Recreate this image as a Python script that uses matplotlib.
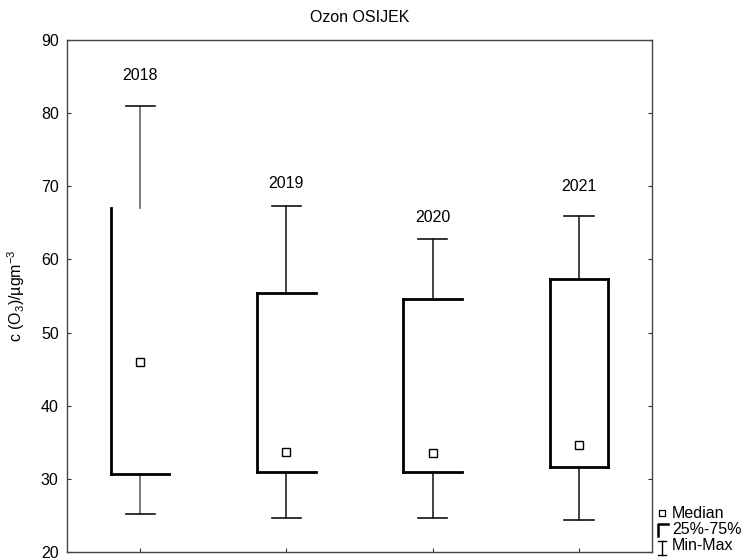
import matplotlib
matplotlib.use("Agg")
import matplotlib.pyplot as plt
from matplotlib.lines import Line2D

plt.rcParams['font.family'] = ['Liberation Sans', 'DejaVu Sans']
plt.rcParams['mathtext.fontset'] = 'custom'
plt.rcParams['mathtext.rm'] = 'Liberation Sans'
plt.rcParams['mathtext.it'] = 'Liberation Sans'

years = ["2018", "2019", "2020", "2021"]
minimum = [25.2, 24.7, 24.6, 24.4]
q25 = [30.7, 31.0, 31.0, 31.6]
median = [46.0, 33.7, 33.6, 34.6]
q75 = [67.0, 55.4, 54.6, 57.3]
maximum = [81.0, 67.3, 62.8, 65.9]
# visible box sides as drawn in the original
box_sides = [("left", "bottom"), ("left", "top", "bottom"),
             ("left", "top", "bottom"), ("left", "top", "bottom", "right")]
label_offsets = [30, 23, 21, 30]
yticks = [20, 30, 40, 50, 60, 70, 80, 90]

W, H = 748, 560
fig = plt.figure(figsize=(W / 100, H / 100), dpi=100)
ax = fig.add_axes([67 / W, 1 - 552 / H, (652 - 67) / W, (552 - 40) / H])

pos = list(range(1, len(years) + 1))
hw = 0.2
cw = 0.1
FS = 11.5
for i, x in enumerate(pos):
    whisker_col = "#666666" if i == 0 else "#222222"
    ax.plot([x, x], [q75[i], maximum[i]], color=whisker_col, lw=1.2, zorder=2)
    ax.plot([x, x], [minimum[i], q25[i]], color=whisker_col, lw=1.2, zorder=2)
    ax.plot([x - cw, x + cw], [maximum[i], maximum[i]], color="#111111", lw=1.2, zorder=2)
    ax.plot([x - cw, x + cw], [minimum[i], minimum[i]], color="#111111", lw=1.2, zorder=2)
    sides = box_sides[i]
    lw = 2.0
    if "left" in sides:
        ax.plot([x - hw, x - hw], [q25[i], q75[i]], color="black", lw=lw, zorder=3, solid_capstyle="projecting")
    if "right" in sides:
        ax.plot([x + hw, x + hw], [q25[i], q75[i]], color="black", lw=lw, zorder=3, solid_capstyle="projecting")
    if "top" in sides:
        ax.plot([x - hw, x + hw], [q75[i], q75[i]], color="black", lw=lw, zorder=3, solid_capstyle="projecting")
    if "bottom" in sides:
        ax.plot([x - hw, x + hw], [q25[i], q25[i]], color="black", lw=lw, zorder=3, solid_capstyle="projecting")
    ax.plot([x], [median[i]], marker="s", ms=6, mfc="white", mec="black", mew=1.0, zorder=4)
    ax.annotate(years[i], (x, maximum[i]), xytext=(0, label_offsets[i]), textcoords="offset pixels",
                ha="center", va="center", fontsize=FS)

ax.set_xlim(0.5, len(years) + 0.5)
ax.set_ylim(20, 90)
ax.set_yticks(yticks)
ax.set_xticks(pos)
ax.set_xticklabels([])
ax.tick_params(axis="y", direction="in", length=3, left=True, right=True, labelsize=FS, pad=6, color="#333333")
ax.tick_params(axis="x", direction="in", length=3, bottom=True, top=False, color="#333333")
for s in ["left", "bottom", "top", "right"]:
    ax.spines[s].set_color("#444444")
    ax.spines[s].set_linewidth(1.0)
ax.set_ylabel("c (O$_3$)/µgm$^{-3}$", fontsize=FS, labelpad=10)
fig.text(359.5 / W, 1 - 18 / H, "Ozon OSIJEK", ha="center", va="center", fontsize=FS)

# legend (outside, bottom right)
def fx(px):
    return px / W
def fy(py):
    return 1 - py / H

tf = fig.transFigure
fig.add_artist(Line2D([fx(662)], [fy(513)], marker="s", ms=5, mfc="white", mec="black", mew=0.9, transform=tf))
fig.add_artist(Line2D([fx(668), fx(658), fx(658)], [fy(524), fy(524), fy(536)], color="black", lw=1.8, transform=tf))
fig.add_artist(Line2D([fx(658), fx(666)], [fy(541), fy(541)], color="black", lw=1.0, transform=tf))
fig.add_artist(Line2D([fx(658), fx(666)], [fy(555), fy(555)], color="black", lw=1.0, transform=tf))
fig.add_artist(Line2D([fx(662), fx(662)], [fy(541), fy(555)], color="black", lw=1.0, transform=tf))
fig.text(fx(672), fy(513), "Median", ha="left", va="center", fontsize=FS)
fig.text(fx(672), fy(529), "25%-75%", ha="left", va="center", fontsize=FS)
fig.text(fx(672), fy(546), "Min-Max", ha="left", va="center", fontsize=FS)

fig.savefig("out.png", dpi=100)
